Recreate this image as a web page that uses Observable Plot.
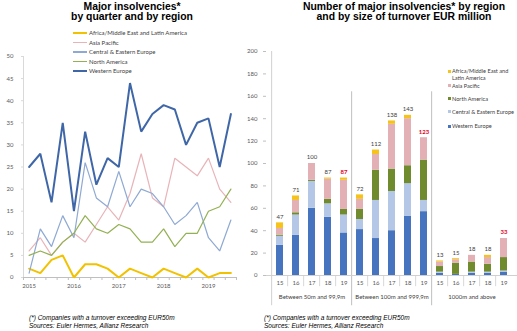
<!DOCTYPE html>
<html><head><meta charset="utf-8">
<script src="https://cdn.jsdelivr.net/npm/d3@7"></script>
<script src="https://cdn.jsdelivr.net/npm/@observablehq/plot@0.6"></script>
<style>
body{margin:0;background:#fff;}
#root{position:relative;width:517px;height:331px;overflow:hidden;background:#fff;font-family:Lato,sans-serif;color:#404040;}
.abs{position:absolute;white-space:nowrap;}
.title{font-family:"Liberation Sans",Arial,sans-serif;font-weight:bold;font-size:10.4px;line-height:10.6px;color:#000;text-align:center;}
.leg{font-size:6px;line-height:6px;color:#404040;}
.legr{font-size:5.6px;line-height:7.6px;color:#404040;}
.foot{font-family:"Liberation Sans",Arial,sans-serif;font-style:italic;font-size:6.5px;line-height:8px;color:#000;}
svg{position:absolute;overflow:visible;}
</style></head><body><div id="root"></div>
<script>
// ---------- Left chart data ----------
const quarters = ["2015 Q1","2015 Q2","2015 Q3","2015 Q4","2016 Q1","2016 Q2","2016 Q3","2016 Q4",
  "2017 Q1","2017 Q2","2017 Q3","2017 Q4","2018 Q1","2018 Q2","2018 Q3","2018 Q4","2019 Q1","2019 Q2","2019 Q3"];
const yearTicks = ["2015","2016","2017","2018","2019"];
const lineNames = ["Africa/Middle East and Latin America","Asia Pacific","Central & Eastern Europe","North America","Western Europe"];
const afme = [2,1,4,5,0,3,3,2,0,2,1,0,2,1,0,2,0,1,1];
const asiaPacific = [6,9,5,8,10,8,12,16,13,19,28,18,16,27,25,23,27,20,17];
const cee = [1,11,7,14,9,26,18,16,24,16,20,19,16,12,14,17,9,6,13];
const northAmerica = [5,6,5,8,10,14,11,10,12,11,8,8,11,7,10,10,15,16,20];
const westernEurope = [25,28,17,35,15,33,21,27,25,44,33,37,39,38,30,35,36,25,37];
const lineColors = ["#F2C200","#E8B4B8","#8EA9D3","#93B153","#3F67A8"];
const lineWidths = [2,1.2,1.2,1.2,2];

// ---------- Right chart data ----------
const groups = ["Between 50m and 99,9m","Between 100m and 999,9m","1000m and above"];
const years = ["15","16","17","18","19"];
const regions = ["Western Europe","Central & Eastern Europe","North America","Asia Pacific","Africa/Middle East and Latin America"];
const barWE   = [27,36,60,52,38, 41,33,40,53,57, 2,1,2,2,3];
const barCEE  = [8,18,24,12,16, 9,34,35,29,10, 1,0,1,1,1];
const barNA   = [1,2,1,4,5, 9,27,20,16,36, 5,10,9,7,12];
const barAP   = [6,11,15,18,26, 9,14,40,42,20, 4,3,6,6,17];
const barAfME = [5,4,0,1,2, 4,4,3,3,0, 1,1,0,2,0];
const totals  = [47,71,100,87,87, 72,112,138,143,123, 13,15,18,18,33];
const barColors = ["#4674BE","#B4C7E7","#6F8B2E","#E2B0B5","#F6C31D"];
const yTicksRight = [0,20,40,60,80,100,120,140,160,180,200];
const yTicksLeft = [0,5,10,15,20,25,30,35,40,45,50];

const root = document.getElementById("root");
function add(html, cls, style){const d=document.createElement("div");d.className="abs "+cls;d.style.cssText=style;d.innerHTML=html;root.appendChild(d);return d;}

// Titles
add("Major insolvencies*<br>by quarter and by region","title","left:2px;top:1.5px;width:260px;");
add("Number of major insolvencies* by region<br>and by size of turnover EUR million","title","left:284px;top:1.5px;width:240px;");

// ---------- Left plot ----------
const seriesL = [afme, asiaPacific, cee, northAmerica, westernEurope];
const leftPlot = Plot.plot({
  width: 240, height: 255, marginLeft: 23, marginRight: 4, marginTop: 16, marginBottom: 18,
  x: {domain: [-0.5, quarters.length - 0.5]},
  y: {domain: [0, 50]},
  style: {fontFamily: "Lato", fontSize: "6px", color: "#595959", background: "transparent"},
  marks: [
    Plot.ruleX([-0.5], {y1: 0, y2: 50, stroke: "#d9d9d9"}),
    Plot.axisY({ticks: yTicksLeft, tickSize: 2, tickPadding: 8, stroke: "#d9d9d9", label: null}),
    Plot.axisX({ticks: d3.range(-0.5, quarters.length, 1), tickSize: 3, tickFormat: () => "", stroke: "#bfbfbf", label: null}),
    Plot.axisX({ticks: yearTicks.map(y => quarters.indexOf(y + " Q1")), tickSize: 0, tickPadding: 6,
      tickFormat: i => quarters[i].slice(0, 4), label: null}),
    Plot.ruleY([0], {stroke: "#bfbfbf"}),
    ...seriesL.map((s, k) => Plot.lineY(s, {x: (d, i) => i, y: d => d, stroke: lineColors[k], strokeWidth: lineWidths[k], strokeLinejoin: "miter"}))
  ]
});
leftPlot.style.left = "0px"; leftPlot.style.top = "40px";
root.appendChild(leftPlot);

// Left legend
const legY = [33, 42.5, 52, 61.5, 71];
lineNames.forEach((n, k) => {
  add("", "", `left:73px;top:${legY[k] - lineWidths[k]/2}px;width:14px;height:${lineWidths[k]}px;background:${lineColors[k]};`);
  add(n, "leg", `left:89px;top:${legY[k] - 3}px;`);
});

// ---------- Right plot ----------
const keys = groups.flatMap(g => years.map(y => g + "|" + y));
const seriesR = [barWE, barCEE, barNA, barAP, barAfME];
const rows = [];
seriesR.forEach((s, si) => keys.forEach((k, i) => rows.push({key: k, region: regions[si], value: s[i]})));
const RW = 277, RML = 26, RMR = 0;
const step = (RW - RML - RMR) / keys.length;
const groupStarts = groups.map(g => g + "|" + years[0]);
const innerKeys = keys.filter(k => !groupStarts.includes(k));
const isLast = (k) => k.endsWith("|" + years[years.length - 1]);
const rightPlot = Plot.plot({
  width: RW, height: 270, marginLeft: RML, marginRight: RMR, marginTop: 11, marginBottom: 35,
  x: {domain: keys, paddingInner: 0.58, paddingOuter: 0.29},
  y: {domain: [0, 200]},
  color: {domain: regions, range: barColors},
  style: {fontFamily: "Lato", fontSize: "6px", color: "#595959", background: "transparent"},
  marks: [
    Plot.axisY({ticks: yTicksRight, tickSize: 3, tickPadding: 6, stroke: "#bfbfbf", label: null}),
    Plot.axisX({tickSize: 0, tickPadding: 5, tickFormat: k => k.split("|")[1], label: null}),
    Plot.ruleX(groupStarts.slice(0, 1), {y1: -27, y2: 200, dx: -step / 2, stroke: "#d0d0d0"}),
    Plot.ruleX(groupStarts.slice(1), {y1: -27, y2: 164, dx: -step / 2, stroke: "#bfbfbf"}),
    Plot.ruleX(innerKeys, {y1: 0, y2: -10, dx: -step / 2, stroke: "#d9d9d9"}),
    Plot.ruleY([0], {stroke: "#d0d0d0"}),
    Plot.barY(rows, {x: "key", y: "value", fill: "region", order: regions}),
    Plot.text(keys.filter(k => !isLast(k)), {x: k => k, y: k => totals[keys.indexOf(k)], text: k => String(totals[keys.indexOf(k)]), dy: -6, fill: "#404040", fontSize: 6}),
    Plot.text(keys.filter(isLast), {x: k => k, y: k => totals[keys.indexOf(k)], text: k => String(totals[keys.indexOf(k)]), dy: -6, fill: "#E3001B", fontWeight: "bold", fontSize: 6}),
    Plot.text(groups, {x: g => g + "|" + years[2], y: () => 0, text: g => g, dy: 22, fill: "#404040", fontSize: 6})
  ]
});
rightPlot.style.left = "240px"; rightPlot.style.top = "40px";
root.appendChild(rightPlot);

// Right legend (top to bottom is reverse of stack order)
const rLeg = [
  {name: "Africa/Middle East and<br>Latin America", c: 4, ty: 70.7, sy: 71.3},
  {name: "Asia Pacific", c: 3, ty: 85.5, sy: 85},
  {name: "North America", c: 2, ty: 98.3, sy: 98.3},
  {name: "Central & Eastern Europe", c: 1, ty: 111.7, sy: 111.7},
  {name: "Western Europe", c: 0, ty: 126, sy: 126}
];
rLeg.forEach(r => {
  add("", "", `left:447.5px;top:${r.sy - 1.5}px;width:3px;height:3px;background:${barColors[r.c]};`);
  add(r.name, "legr", `left:452px;top:${r.ty - 3.8}px;`);
});

// Footnotes
const foot = "(*) Companies with a turnover exceeding EUR50m<br>Sources: Euler Hermes, Allianz Research";
add(foot, "foot", "left:29px;top:313.5px;");
add(foot, "foot", "left:264px;top:313.5px;");
</script></body></html>
